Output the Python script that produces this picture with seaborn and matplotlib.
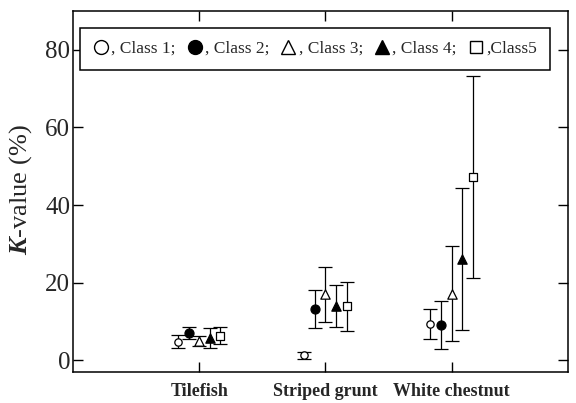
import numpy as np
import pandas as pd
import matplotlib
matplotlib.use("Agg")
import matplotlib.pyplot as plt
from matplotlib.lines import Line2D
import seaborn as sns

species = ["Tilefish", "Striped grunt", "White chestnut"]
classes = ["Class 1", "Class 2", "Class 3", "Class 4", "Class 5"]
legend_labels = [", Class 1;", ", Class 2;", ", Class 3;", ", Class 4;", ",Class5"]
# mean K-value (%) per class, per species
means = {
    "Class 1": [4.8, 1.3, 9.4],
    "Class 2": [7.1, 13.2, 9.1],
    "Class 3": [5.0, 17.0, 17.2],
    "Class 4": [5.8, 13.9, 26.2],
    "Class 5": [6.4, 13.9, 47.2],
}
errs = {
    "Class 1": [1.7, 0.9, 3.9],
    "Class 2": [1.6, 4.8, 6.3],
    "Class 3": [1.3, 7.0, 12.3],
    "Class 4": [2.5, 5.4, 18.3],
    "Class 5": [2.3, 6.4, 26.1],
}
yticks = [0, 20, 40, 60, 80]

sns.set_theme(style="ticks")
plt.rcParams["font.family"] = ["Liberation Serif", "DejaVu Serif"]
plt.rcParams["mathtext.fontset"] = "custom"
plt.rcParams["mathtext.bfit"] = "Liberation Serif:bold:italic"
plt.rcParams["mathtext.rm"] = "Liberation Serif"

fig = plt.figure(figsize=(5.76, 4.03), dpi=100)
ax = fig.add_axes([0.1267, 0.0769, 0.859, 0.896])

markers = ["o", "o", "^", "^", "s"]
faces = ["white", "black", "white", "black", "white"]
sizes = [28, 42, 45, 45, 28]
offsets = np.array([-2, -1, 0, 1, 2]) * 0.084
base = np.arange(1, len(species) + 1)

for i, c in enumerate(classes):
    x = base + offsets[i]
    ax.errorbar(x, means[c], yerr=errs[c], fmt="none", ecolor="black",
                elinewidth=0.9, capsize=5, capthick=0.9, zorder=2)
    df = pd.DataFrame({"x": x, "y": means[c]})
    sns.scatterplot(data=df, x="x", y="y", marker=markers[i], s=sizes[i],
                    color=faces[i], edgecolor="black", linewidth=0.9,
                    ax=ax, zorder=3, legend=False)

ax.set_xlim(0, 3.92)
ax.set_ylim(-3, 90)
ax.set_xticks(base)
ax.set_xticklabels(species, fontsize=13, fontweight="bold")
ax.set_yticks(yticks)
ax.set_yticklabels([str(v) for v in yticks], fontsize=18)
ax.tick_params(axis="both", direction="in", length=7, width=1,
               top=True, right=True, color="black")
ax.tick_params(axis="x", pad=8)
ax.tick_params(axis="y", pad=2)
for s in ax.spines.values():
    s.set_linewidth(1.1)
    s.set_color("black")
ax.set_xlabel("")
ax.set_ylabel(r"$\mathbfit{K}$-value (%)", fontsize=19)
ax.yaxis.set_label_coords(-0.105, 0.504)
ax.yaxis.label.set_va("center")

handles = [Line2D([], [], linestyle="none", marker=markers[i],
                  markerfacecolor=faces[i], markeredgecolor="black",
                  markeredgewidth=1.0, markersize=10 if markers[i] != "s" else 9)
           for i in range(len(classes))]
leg = ax.legend(handles, legend_labels, ncol=5, loc="center",
                bbox_to_anchor=(0.014, 0.837, 0.95, 0.116), mode="expand",
                fontsize=12.5, frameon=True, fancybox=False,
                handlelength=0.9, handletextpad=0.15, columnspacing=0.6,
                borderpad=0.75, borderaxespad=0)
leg.get_frame().set_edgecolor("black")
leg.get_frame().set_linewidth(1.1)
leg.get_frame().set_alpha(1)

fig.savefig("out.png", dpi=100)
